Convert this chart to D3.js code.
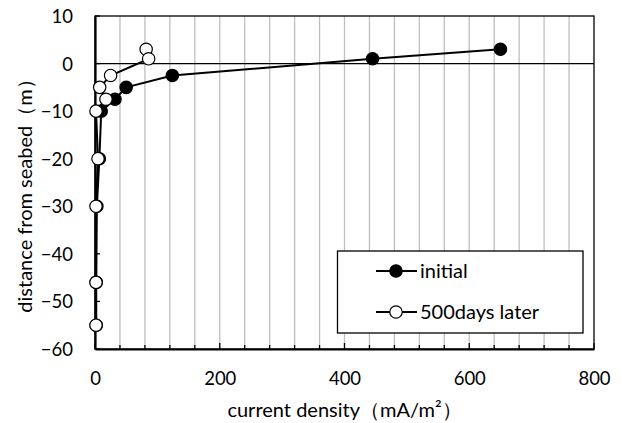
<!DOCTYPE html>
<html><head><meta charset="utf-8">
<script src="https://cdn.jsdelivr.net/npm/d3@7/dist/d3.min.js"></script>
<style>body{margin:0;background:#fff}svg{display:block}text{font-family:Lato,"Open Sans",sans-serif;fill:#000}</style>
</head><body><svg id="c" width="622" height="423"></svg>
<script>
const initialX = [650, 445, 124, 50, 32, 10, 7, 3, 2, 2];
const initialY = [3, 1, -2.5, -5, -7.5, -10, -20, -30, -46, -55];
const laterX = [82, 86, 25, 7.5, 17.6, 1.6, 4.8, 1.6, 1.6, 1.6];
const laterY = [3, 1, -2.5, -5, -7.5, -10, -20, -30, -46, -55];
const xTicks = [0, 200, 400, 600, 800];
const yTicks = [10, 0, -10, -20, -30, -40, -50, -60];
const seriesNames = ["initial", "500days later"];

const svg = d3.select("#c");
const L = 95, R = 594, T = 16, B = 349;
const x = d3.scaleLinear().domain([0, 800]).range([L, R]);
const y = d3.scaleLinear().domain([-60, 10]).range([B, T]);

// vertical gridlines every 40
const minor = d3.range(40, 800, 40);
svg.append("g").selectAll("line").data(minor).join("line")
  .attr("x1", d => x(d)).attr("x2", d => x(d)).attr("y1", T).attr("y2", B)
  .attr("stroke", "#bfbfbf").attr("stroke-width", 1.3);

// frame
svg.append("rect").attr("x", L).attr("y", T).attr("width", R - L).attr("height", B - T)
  .attr("fill", "none").attr("stroke", "#000").attr("stroke-width", 1.3);
// zero line
svg.append("line").attr("x1", L).attr("x2", R).attr("y1", y(0)).attr("y2", y(0))
  .attr("stroke", "#000").attr("stroke-width", 1.3);

// axes
const xAxis = d3.axisBottom(x).tickValues(xTicks).tickSize(0).tickPadding(0).tickFormat(d3.format("d"));
const gx = svg.append("g").attr("transform", `translate(0,${B})`).call(xAxis);
gx.select(".domain").attr("stroke", "#000").attr("stroke-width", 2.2);
gx.selectAll("text").attr("dy", "0").attr("y", 36).style("font-size", "18.5px");
// x tick marks (inside)
svg.append("g").selectAll("line").data(d3.range(0, 801, 40)).join("line")
  .attr("x1", d => x(d)).attr("x2", d => x(d)).attr("y1", B)
  .attr("y2", d => B - (d % 200 === 0 ? 6 : 4))
  .attr("stroke", "#000").attr("stroke-width", 1.3);

const yAxis = d3.axisLeft(y).tickValues(yTicks).tickSize(0).tickPadding(0);
const gy = svg.append("g").attr("transform", `translate(${L},0)`).call(yAxis);
gy.select(".domain").attr("stroke", "#000").attr("stroke-width", 2.2);
gy.selectAll("text").attr("x", -22).attr("dy", "0.35em").style("font-size", "18.5px");
svg.append("g").selectAll("line").data(yTicks).join("line")
  .attr("x1", L).attr("x2", L + 5).attr("y1", d => y(d)).attr("y2", d => y(d))
  .attr("stroke", "#000").attr("stroke-width", 1.3);

// axis titles
svg.append("text").attr("x", (L + R) / 2).attr("y", 417).attr("text-anchor", "middle")
  .style("font-size", "20px").text("current density（mA/m²）");
svg.append("text").attr("transform", `translate(32,191) rotate(-90)`)
  .attr("text-anchor", "middle")
  .style("font-size", "20px").text("distance from seabed（m）");

// series
const line = d3.line().x(d => x(d[0])).y(d => y(d[1]));
const initial = initialX.map((v, i) => [v, initialY[i]]);
const later = laterX.map((v, i) => [v, laterY[i]]);

function drawSeries(data, fill) {
  svg.append("path").datum(data).attr("d", line).attr("fill", "none")
    .attr("stroke", "#000").attr("stroke-width", 2);
  svg.append("g").selectAll("circle").data(data).join("circle")
    .attr("cx", d => x(d[0])).attr("cy", d => y(d[1])).attr("r", 6.2)
    .attr("fill", fill).attr("stroke", "#000").attr("stroke-width", 1.2);
}
drawSeries(initial, "#000");
drawSeries(later, "#fff");

// legend
const lg = svg.append("g");
lg.append("rect").attr("x", 337.5).attr("y", 251).attr("width", 245.5).attr("height", 82)
  .attr("fill", "#fff").attr("stroke", "#000").attr("stroke-width", 1.3);
[[seriesNames[0], "#000", 271], [seriesNames[1], "#fff", 312]].forEach(([n, f, cy]) => {
  lg.append("line").attr("x1", 376).attr("x2", 417).attr("y1", cy).attr("y2", cy)
    .attr("stroke", "#000").attr("stroke-width", 2);
  lg.append("circle").attr("cx", 396).attr("cy", cy).attr("r", 6.2)
    .attr("fill", f).attr("stroke", "#000").attr("stroke-width", 1.2);
  lg.append("text").attr("x", 420).attr("y", cy).attr("dy", "0.35em")
    .style("font-size", "20px").text(n);
});
</script></body></html>
